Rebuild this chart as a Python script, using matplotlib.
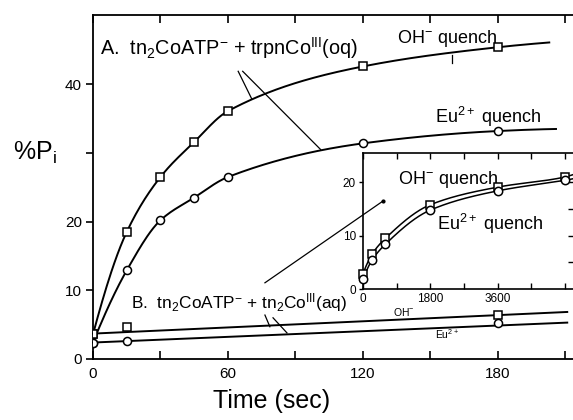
import numpy as np
import matplotlib
matplotlib.use("Agg")
import matplotlib.pyplot as plt
from matplotlib import font_manager as fm

# ---------------- data ----------------
t_A = [0, 15, 30, 45, 60, 120, 180]
A_OH = [3.6, 18.5, 26.5, 31.6, 36.1, 42.6, 45.4]
A_Eu = [2.4, 12.9, 20.2, 23.5, 26.5, 31.4, 33.2]
A_OH_curve_end = (203, 46.1)
A_Eu_curve_end = (206, 33.5)

t_B = [0, 15, 180]
B_OH = [3.7, 4.6, 6.4]
B_Eu = [2.4, 2.6, 5.2]
B_fit_t = [0, 211]
B_OH_fit = [3.7, 6.85]
B_Eu_fit = [2.4, 5.3]

t_in = [0, 240, 600, 1800, 3600, 5400]
in_OH = [2.9, 6.5, 9.5, 15.8, 19.1, 21.0]
in_Eu = [1.9, 5.4, 8.4, 14.8, 18.4, 20.4]
in_OH_curve_end = (5640, 21.5)
in_Eu_curve_end = (5640, 20.7)

main_xticks = [0, 60, 120, 180]
main_xminor = [30, 90, 150, 210]
main_yticks = [0, 10, 20, 30, 40]
main_ylabels = ["0", "10", "20", "", "40"]
in_xticks = [0, 1800, 3600]
in_xminor = [900, 2700, 4500, 5400]
in_yticks = [0, 10, 20]


def pchip(x, y, xn):
    x = np.asarray(x, float); y = np.asarray(y, float); xn = np.asarray(xn, float)
    h = np.diff(x); d = np.diff(y) / h
    n = len(x); m = np.zeros(n)
    for k in range(1, n - 1):
        if d[k - 1] * d[k] > 0:
            w1 = 2 * h[k] + h[k - 1]; w2 = h[k] + 2 * h[k - 1]
            m[k] = (w1 + w2) / (w1 / d[k - 1] + w2 / d[k])
    def endm(h0, h1, d0, d1):
        v = ((2 * h0 + h1) * d0 - h0 * d1) / (h0 + h1)
        if np.sign(v) != np.sign(d0):
            v = 0
        elif np.sign(d0) != np.sign(d1) and abs(v) > abs(3 * d0):
            v = 3 * d0
        return v
    m[0] = endm(h[0], h[1], d[0], d[1])
    m[-1] = endm(h[-1], h[-2], d[-1], d[-2])
    idx = np.clip(np.searchsorted(x, xn) - 1, 0, n - 2)
    hh = h[idx]; s = (xn - x[idx]) / hh
    h00 = 2 * s**3 - 3 * s**2 + 1; h10 = s**3 - 2 * s**2 + s
    h01 = -2 * s**3 + 3 * s**2; h11 = s**3 - s**2
    return h00 * y[idx] + h10 * hh * m[idx] + h01 * y[idx + 1] + h11 * hh * m[idx + 1]


def has_font(name):
    try:
        fm.findfont(fm.FontProperties(family=name), fallback_to_default=False)
        return True
    except Exception:
        return False

FONT = "Liberation Sans" if has_font("Liberation Sans") else "DejaVu Sans"
plt.rcParams["font.family"] = [FONT, "DejaVu Sans"]
plt.rcParams["mathtext.fontset"] = "custom"
plt.rcParams["mathtext.rm"] = FONT
plt.rcParams["mathtext.it"] = FONT
plt.rcParams["mathtext.bf"] = FONT
plt.rcParams["mathtext.default"] = "regular"

fig = plt.figure(figsize=(5.73, 4.2), dpi=100)
W, H = 573.0, 420.0
ax = fig.add_axes([93 / W, 61 / H, (576 - 93) / W, 344 / H])
ax.set_xlim(0, 214.9)
ax.set_ylim(0, 50.1)

for side in ["top", "left", "bottom", "right"]:
    ax.spines[side].set_linewidth(1.3)

mk = dict(markersize=5.8, markerfacecolor="white", markeredgecolor="black",
          markeredgewidth=1.1, linestyle="none", zorder=4)

# Curves A
tA_OH = list(t_A) + [A_OH_curve_end[0]]
yA_OH = list(A_OH) + [A_OH_curve_end[1]]
xx = np.linspace(0, tA_OH[-1], 300)
ax.plot(xx, pchip(tA_OH, yA_OH, xx), color="black", lw=1.4, zorder=3)
tA_Eu = list(t_A) + [A_Eu_curve_end[0]]
yA_Eu = list(A_Eu) + [A_Eu_curve_end[1]]
xx = np.linspace(0, tA_Eu[-1], 300)
ax.plot(xx, pchip(tA_Eu, yA_Eu, xx), color="black", lw=1.4, zorder=3)
ax.plot(t_A, A_OH, marker="s", **mk)
ax.plot(t_A, A_Eu, marker="o", **mk)

# Lines B
ax.plot(B_fit_t, B_OH_fit, color="black", lw=1.4, zorder=3, clip_on=False)
ax.plot(B_fit_t, B_Eu_fit, color="black", lw=1.4, zorder=3, clip_on=False)
ax.plot(t_B, B_OH, marker="s", **mk)
ax.plot(t_B, B_Eu, marker="o", **mk)

# ticks
ax.set_xticks(main_xticks)
ax.set_xticks(main_xminor, minor=True)
ax.tick_params(axis="x", which="both", direction="in", top=True, bottom=True,
               length=6, width=1.2, labelsize=11, pad=6)
ax.set_yticks(main_yticks)
ax.set_yticklabels(main_ylabels)
ax.tick_params(axis="y", which="both", direction="out", left=True, right=False,
               length=5, width=1.2, labelsize=11, pad=3)

# annotation text (main)
ax.text(3.1, 44.3, r"A.  tn$_2$CoATP$^{-}$ + trpnCo$^{\rm III}$(oq)", fontsize=14.3,
        ha="left", va="baseline")
ax.text(135.2, 46.0, r"OH$^{-}$ quench", fontsize=13, ha="left", va="baseline")
ax.text(152.1, 34.4, r"Eu$^{2+}$ quench", fontsize=13, ha="left", va="baseline")
ax.text(16.9, 7.4, r"B.  tn$_2$CoATP$^{-}$ + tn$_2$Co$^{\rm III}$(aq)", fontsize=12.4,
        ha="left", va="baseline")
ax.text(133.5, 6.2, r"OH$^{-}$", fontsize=7.5, ha="left", va="baseline")
ax.text(152.0, 2.9, r"Eu$^{2+}$", fontsize=7.5, ha="left", va="baseline")

lk = dict(color="black", lw=0.9, zorder=5, clip_on=False)
ax.plot([64.6, 70.6], [41.9, 37.9], **lk)
ax.plot([66.6, 101.3], [41.9, 30.5], **lk)
ax.plot([159.8, 159.8], [44.3, 43.1], **lk)
ax.plot([76.5, 78.7], [6.4, 4.7], **lk)
ax.plot([80.1, 86.3], [6.0, 3.8], **lk)

# axis labels
fig.text(13 / W, (H - 160) / H, r"%P$_i$", fontsize=18, ha="left", va="baseline")
fig.text(213 / W, 12 / H, "Time (sec)", fontsize=18, ha="left", va="baseline")

# ---------------- inset ----------------
axi = fig.add_axes([363 / W, (H - 289) / H, (574 - 363) / W, (289 - 153) / H])
axi.set_facecolor("white")
axi.set_xlim(0, 5640)
axi.set_ylim(0, 25.5)
for side in ["top", "left", "bottom", "right"]:
    axi.spines[side].set_linewidth(1.2)

ti_OH = list(t_in) + [in_OH_curve_end[0]]
yi_OH = list(in_OH) + [in_OH_curve_end[1]]
xx = np.linspace(0, ti_OH[-1], 400)
axi.plot(xx, pchip(ti_OH, yi_OH, xx), color="black", lw=1.1, zorder=3)
ti_Eu = list(t_in) + [in_Eu_curve_end[0]]
yi_Eu = list(in_Eu) + [in_Eu_curve_end[1]]
axi.plot(xx, pchip(ti_Eu, yi_Eu, xx), color="black", lw=1.1, zorder=3)
mki = dict(mk); mki["markersize"] = 6.0
axi.plot(t_in, in_OH, marker="s", clip_on=False, **mki)
axi.plot(t_in, in_Eu, marker="o", clip_on=False, **mki)

axi.set_xticks(in_xticks)
axi.set_xticks(in_xminor, minor=True)
axi.tick_params(axis="x", which="both", direction="in", top=True, bottom=True,
                length=4, width=1.0, labelsize=8.5, pad=3)
axi.set_yticks(in_yticks)
axi.tick_params(axis="y", which="both", direction="out", left=True, right=False,
                length=3, width=1.0, labelsize=8.5, pad=2)
axr = axi.secondary_yaxis("right")
axr.set_yticks([5, 10, 15, 20])
axr.tick_params(direction="in", length=4, width=1.0, labelright=False)

axi.text(927, 19.6, r"OH$^{-}$ quench", fontsize=13, ha="left", va="baseline")
axi.text(1970, 11.1, r"Eu$^{2+}$ quench", fontsize=13, ha="left", va="baseline")

# long pointer line drawn above the inset (main data coordinates)
axi.plot([76.5, 129.0], [11.1, 23.0], transform=ax.transData, color="black",
         lw=0.9, zorder=6, clip_on=False)
axi.plot([129.0], [23.0], transform=ax.transData, marker="o", markersize=2,
         color="black", zorder=6, clip_on=False)

fig.savefig("out.png", dpi=100)
